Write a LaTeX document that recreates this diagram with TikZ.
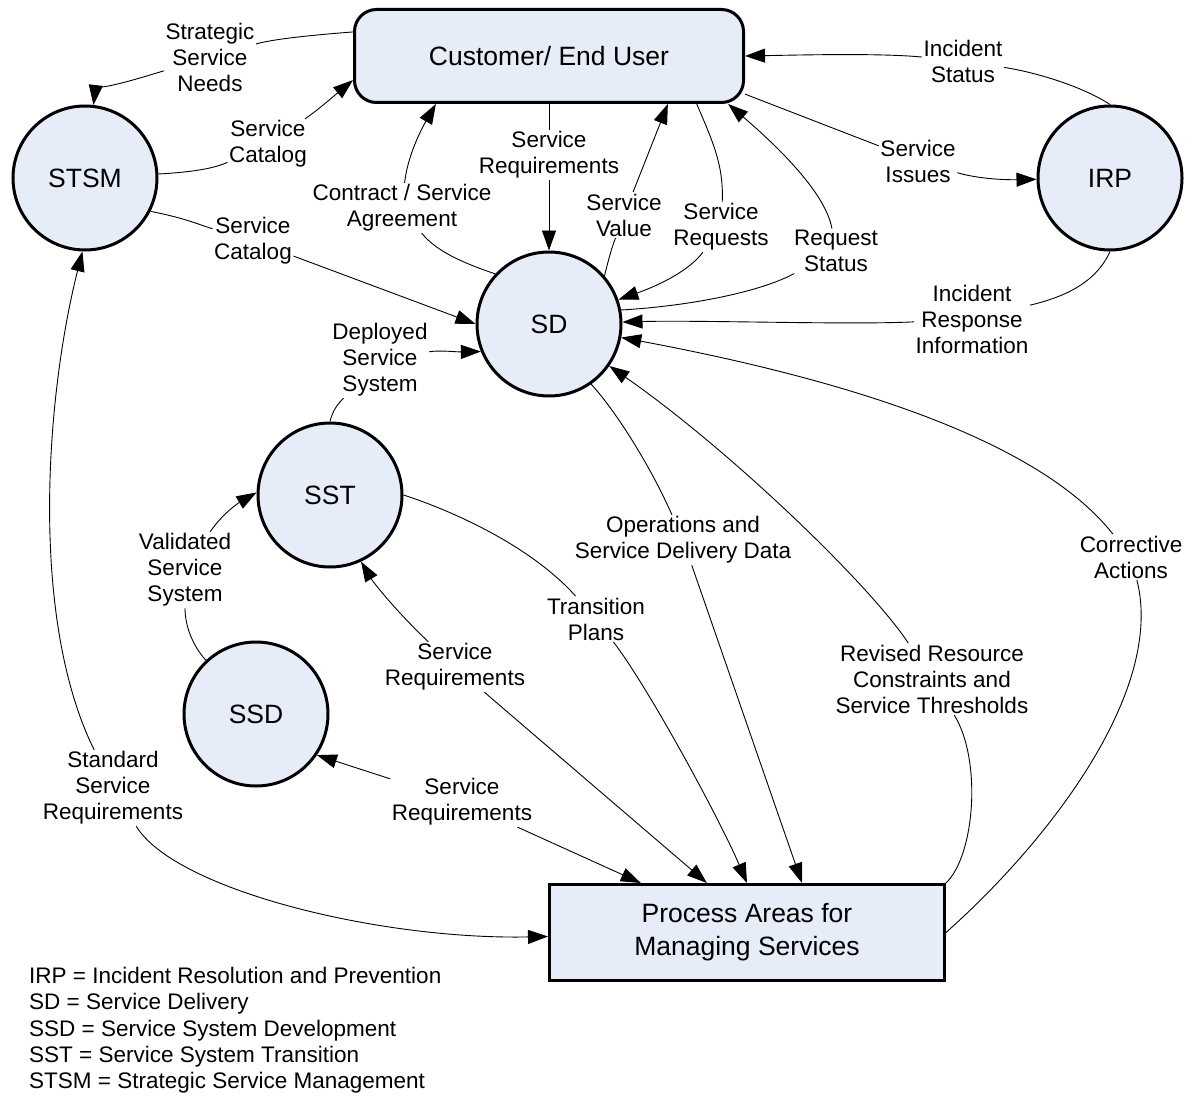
\documentclass[tikz,border=0pt]{standalone}
\usepackage{fontspec}
\setmainfont{Liberation Sans}
\usetikzlibrary{arrows.meta}
\definecolor{nodefill}{RGB}{230,236,248}
\begin{document}
\begin{tikzpicture}[x=1pt,y=-1pt,
  circ/.style={circle,draw,line width=3pt,fill=nodefill,minimum size=144pt,inner sep=0pt,font=\fontsize{26.5}{30}\selectfont},
  bigbox/.style={rectangle,draw,line width=3pt,fill=nodefill,inner sep=0pt,align=center,font=\fontsize{26.5}{33}\selectfont},
  lab/.style={align=center,inner sep=1.5pt,font=\fontsize{22.5}{26}\selectfont},
  conn/.style={line width=0.9pt},
  arr/.style={conn,-{Triangle[length=20pt,width=14pt]}},
  legendtext/.style={anchor=base west,inner sep=0pt,font=\fontsize{22.5}{26}\selectfont}]
\useasboundingbox (0,0) rectangle (1199,1097);
% main nodes
\node[bigbox,rounded corners=22pt,minimum width=389pt,minimum height=93pt] (CU) at (549,56) {Customer/ End User};
\node[bigbox,minimum width=395pt,minimum height=96pt] (PA) at (747,932.5) {Process Areas for\\Managing Services};
\node[circ] (STSM) at (85,178) {STSM};
\node[circ] (IRP) at (1110,178) {IRP};
\node[circ] (SD) at (549,324) {SD};
\node[circ] (SST) at (330,495) {SST};
\node[circ] (SSD) at (256,714) {SSD};
% labels
\node[lab] (L1) at (210,57) {Strategic\\Service\\Needs};
\node[lab] (L2) at (268,144) {Service\\Catalog};
\node[lab] (L3) at (253,241) {Service\\Catalog};
\node[lab] (L4) at (380,360) {Deployed\\Service\\System};
\node[lab] (L5) at (402,208) {Contract / Service\\Agreement};
\node[lab] (L6) at (549,155) {Service\\Requirements};
\node[lab] (L7) at (624,215) {Service\\Value};
\node[lab] (L8) at (721,227) {Service\\Requests};
\node[lab] (L9) at (836,251) {Request\\Status};
\node[lab] (L10) at (918,161) {Service\\Issues};
\node[lab] (L11) at (963,61) {Incident\\Status};
\node[lab] (L12) at (972,319) {Incident\\Response\\Information};
\node[lab] (L13) at (1131,557) {Corrective\\Actions};
\node[lab] (L14) at (932,679) {Revised Resource\\Constraints and\\Service Thresholds};
\node[lab] (L15) at (683,540) {Operations and\\Service Delivery Data};
\node[lab] (L16) at (596,619) {Transition\\Plans};
\node[lab] (L17) at (455,667) {Service\\Requirements};
\node[lab] (L18) at (462,802) {Service\\Requirements};
\node[lab] (L19) at (185,570) {Validated\\Service\\System};
\node[lab] (L20) at (113,788) {Standard\\Service\\Requirements};
% connectors
\draw[conn] (CU.173) .. controls (300,36) and (270,40) .. (L1);
\draw[arr] (L1) .. controls (140,78) and (95,92) .. (STSM);
\draw[conn] (STSM) .. controls (195,172) and (215,168) .. (L2);
\draw[arr] (L2) .. controls (318,110) and (335,95) .. (CU.187);
\draw[conn] (STSM.-27) .. controls (185,218) and (200,225) .. (L3);
\draw[arr] (L3) -- (SD.west);
\draw[conn] (SST.north) .. controls (333,410) and (337,405) .. (L4);
\draw[arr] (L4) .. controls (440,350) and (455,352) .. (SD.202);
\draw[conn] (SD.137) .. controls (460,262) and (435,250) .. (L5);
\draw[arr] (L5) .. controls (407,160) and (418,135) .. (CU.203);
\draw[conn] (CU) -- (L6);
\draw[arr] (L6) -- (SD);
\draw[conn] (SD.41) .. controls (609,258) and (611,250) .. (L7);
\draw[arr] (L7) -- (CU.338);
\draw[conn] (CU.-18) .. controls (712,140) and (724,165) .. (L8);
\draw[arr] (L8) .. controls (690,270) and (660,285) .. (SD);
\draw[conn] (SD.11) .. controls (690,306) and (760,292) .. (L9);
\draw[arr] (L9) .. controls (825,190) and (770,140) .. (CU.345);
\draw[conn] (CU.-11) -- (L10);
\draw[arr] (L10) .. controls (975,178) and (1000,180) .. (IRP);
\draw[conn] (IRP.north) .. controls (1085,88) and (1040,73) .. (L11);
\draw[arr] (L11) .. controls (880,53) and (800,55) .. (CU.east);
\draw[conn] (IRP.south) .. controls (1095,285) and (1060,298) .. (L12);
\draw[arr] (L12) .. controls (850,325) and (700,320) .. (SD);
\draw[conn] (PA.east) .. controls (1050,840) and (1165,690) .. (L13);
\draw[arr] (L13) .. controls (1045,448) and (875,385) .. (SD);
\draw[conn] (PA.north east) .. controls (975,855) and (982,760) .. (L14);
\draw[arr] (L14) .. controls (870,585) and (730,450) .. (SD);
\draw[conn] (SD.-55) .. controls (615,410) and (650,465) .. (L15);
\draw[arr] (L15) -- (PA.42);
\draw[conn] (SST.east) .. controls (450,510) and (530,545) .. (L16);
\draw[arr] (L16) .. controls (650,690) and (720,820) .. (PA.north);
\draw[arr] (L17) .. controls (400,615) and (375,585) .. (SST.-65);
\draw[arr] (L17) -- (PA.129);
\draw[arr] (L18) -- (SSD.-34);
\draw[arr] (L18) -- (PA.155);
\draw[conn] (SSD.133) .. controls (192,645) and (185,625) .. (L19);
\draw[arr] (L19) .. controls (220,517) and (235,505) .. (SST.178);
\draw[arr] (L20) .. controls (30,620) and (45,400) .. (STSM.-92);
\draw[arr] (L20) .. controls (175,890) and (380,940) .. ([yshift=-4pt]PA.west);
% legend
\node[legendtext] (lg1) at (29,983) {IRP = Incident Resolution and Prevention};
\node[legendtext] (lg2) at (29,1009) {SD = Service Delivery};
\node[legendtext] (lg3) at (29,1036) {SSD = Service System Development};
\node[legendtext] (lg4) at (29,1062) {SST = Service System Transition};
\node[legendtext] (lg5) at (29,1088) {STSM = Strategic Service Management};
\end{tikzpicture}
\end{document}
